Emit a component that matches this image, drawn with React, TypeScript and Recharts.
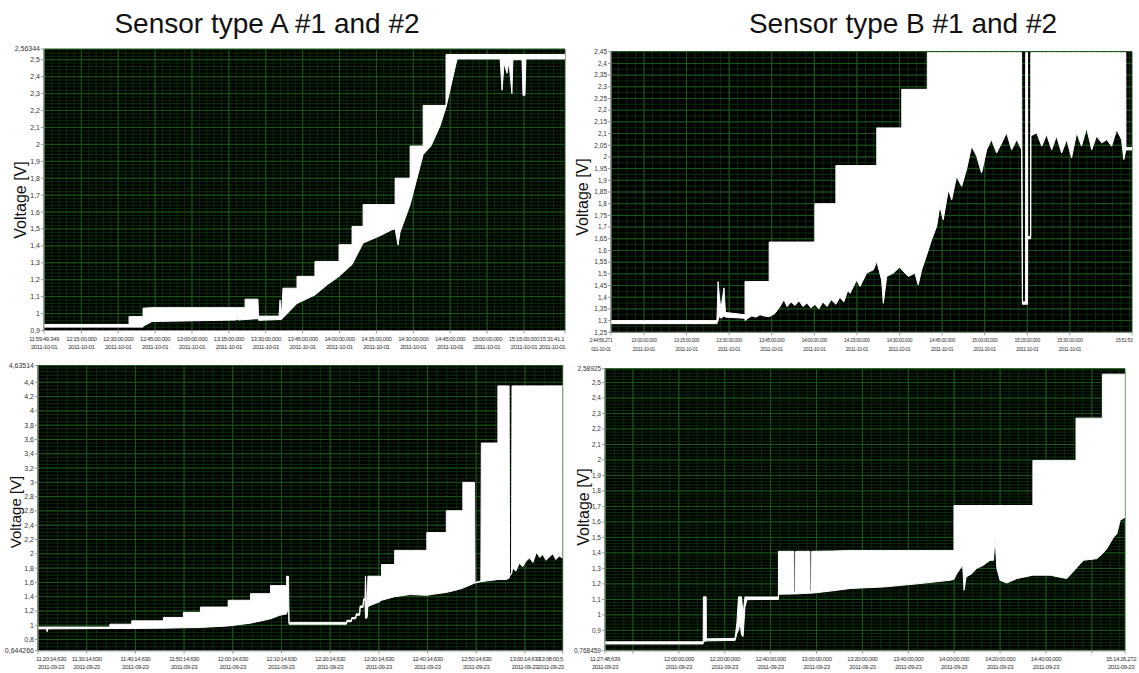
import React from 'react';
import { ComposedChart, Area, XAxis, YAxis, CartesianGrid } from 'recharts';

const FONT = '"Liberation Sans", Arial, sans-serif';

// Sensor type A, run 1 (2011-10-01). Time in minutes since midnight.
const aTopTime = [
  719.8, 754.4, 754.4, 760.1, 760.1, 763.7, 783.3, 798.0, 798.3, 798.6,
  801.6, 801.6, 806.8, 807.1, 815.4, 815.8, 816.4, 817.0, 822.7, 822.7,
  830.0, 830.0, 835.0, 839.8, 839.8, 845.1, 845.1, 849.6, 849.6, 856.5,
  861.3, 862.6, 862.6, 863.8, 864.6, 868.7, 868.7, 874.0, 874.0, 877.2,
  880.9, 883.3, 883.3, 887.8, 905.3, 906.1, 906.9, 908.1, 908.9, 910.1,
  910.5, 914.2, 914.6, 915.4, 915.8, 931.7,
];
const aTopSensor1 = [
  0.935, 0.935, 0.983, 0.983, 1.032, 1.035, 1.035, 1.035, 1.035, 1.035,
  1.035, 1.085, 1.085, 0.985, 0.985, 1.08, 0.99, 1.15, 1.15, 1.22,
  1.22, 1.308, 1.308, 1.308, 1.407, 1.407, 1.515, 1.515, 1.644, 1.644,
  1.644, 1.644, 1.8, 1.8, 1.8, 1.8, 1.99, 1.99, 2.23, 2.23,
  2.23, 2.23, 2.531, 2.531, 2.531, 2.531, 2.531, 2.531, 2.531, 2.531,
  2.531, 2.531, 2.531, 2.531, 2.531, 2.531,
];
const aTopSensor2 = [
  0.92, 0.92, 0.92, 0.92, 0.925, 0.953, 0.958, 0.962, 1.0, 0.962,
  0.965, 0.965, 0.97, 0.96, 0.965, 0.965, 0.965, 0.975, 1.06, 1.06,
  1.11, 1.11, 1.17, 1.22, 1.22, 1.29, 1.29, 1.417, 1.417, 1.46,
  1.495, 1.5, 1.5, 1.405, 1.48, 1.644, 1.644, 1.94, 1.94, 1.99,
  2.11, 2.22, 2.22, 2.505, 2.505, 2.32, 2.48, 2.42, 2.49, 2.3,
  2.5, 2.5, 2.29, 2.29, 2.505, 2.505,
];
const aTopTicks = [719.822, 735, 750, 765, 780, 795, 810, 825, 840, 855, 870, 885, 900, 915, 931.685];
const aTopTimeLabels = [
  '11:59:49,349', '12:15:00,000', '12:30:00,000', '12:45:00,000', '13:00:00,000', '13:15:00,000',
  '13:30:00,000', '13:45:00,000', '14:00:00,000', '14:15:00,000', '14:30:00,000', '14:45:00,000',
  '15:00:00,000', '15:15:00,000', '15:31:41,1',
];
const aTopDates = Array(15).fill('2011-10-01');
const aTopVolts = [0.9, 1, 1.1, 1.2, 1.3, 1.4, 1.5, 1.6, 1.7, 1.8, 1.9, 2, 2.1, 2.2, 2.3, 2.4, 2.5, 2.56344];

// Sensor type B, run 1 (2011-10-01)
const bTopTime = [
  768.4, 805.7, 806.1, 806.6, 807.1, 808.2, 808.7, 815.6, 815.6, 816.6,
  818.0, 819.5, 820.9, 822.3, 824.1, 824.1, 826.1, 827.9, 829.3, 830.4,
  831.8, 833.2, 834.6, 836.0, 837.4, 838.8, 840.2, 840.2, 841.6, 843.0,
  844.5, 845.9, 847.6, 847.6, 849.0, 850.4, 851.8, 852.6, 854.9, 856.1,
  858.4, 860.8, 862.0, 862.0, 863.7, 864.3, 865.5, 867.8, 870.2, 870.8,
  870.8, 873.1, 875.4, 876.6, 877.8, 879.8, 879.8, 881.3, 883.1, 884.2,
  885.4, 887.2, 888.4, 890.1, 891.9, 893.6, 895.4, 897.2, 898.9, 900.7,
  902.4, 904.2, 906.0, 907.7, 909.5, 911.3, 913.0, 913.3, 914.4, 914.45,
  915.1, 915.15, 916.2, 916.25, 918.3, 920.1, 921.8, 923.6, 925.3, 927.1,
  928.9, 930.6, 932.4, 934.1, 935.9, 937.7, 939.4, 941.2, 943.0, 944.7,
  946.5, 948.2, 949.0, 949.7, 949.75, 951.9,
];
const bTopSensor1 = [
  1.3, 1.3, 1.467, 1.4, 1.35, 1.44, 1.335, 1.325, 1.467, 1.467,
  1.467, 1.467, 1.467, 1.467, 1.467, 1.636, 1.636, 1.636, 1.636, 1.636,
  1.636, 1.636, 1.636, 1.636, 1.636, 1.636, 1.636, 1.8, 1.8, 1.8,
  1.8, 1.8, 1.8, 1.963, 1.963, 1.963, 1.963, 1.963, 1.963, 1.963,
  1.963, 1.963, 1.963, 2.124, 2.124, 2.124, 2.124, 2.124, 2.124, 2.124,
  2.289, 2.289, 2.289, 2.289, 2.289, 2.289, 2.446, 2.446, 2.446, 2.446,
  2.446, 2.446, 2.446, 2.446, 2.446, 2.446, 2.446, 2.446, 2.446, 2.446,
  2.446, 2.446, 2.446, 2.446, 2.446, 2.446, 2.446, 1.38, 1.38, 2.446,
  2.446, 1.66, 1.66, 2.446, 2.446, 2.446, 2.446, 2.446, 2.446, 2.446,
  2.446, 2.446, 2.446, 2.446, 2.446, 2.446, 2.446, 2.446, 2.446, 2.446,
  2.446, 2.446, 2.446, 2.446, 2.04, 2.04,
];
const bTopSensor2 = [
  1.287, 1.287, 1.3, 1.32, 1.31, 1.32, 1.315, 1.31, 1.3, 1.31,
  1.32, 1.315, 1.325, 1.32, 1.317, 1.317, 1.33, 1.36, 1.39, 1.36,
  1.38, 1.365, 1.385, 1.36, 1.375, 1.355, 1.37, 1.37, 1.35, 1.38,
  1.36, 1.39, 1.37, 1.37, 1.4, 1.38, 1.43, 1.417, 1.474, 1.446,
  1.503, 1.517, 1.553, 1.553, 1.474, 1.374, 1.489, 1.503, 1.53, 1.517,
  1.517, 1.489, 1.503, 1.453, 1.517, 1.589, 1.589, 1.646, 1.703, 1.789,
  1.731, 1.86, 1.817, 1.917, 1.874, 1.946, 2.046, 2.003, 1.931, 2.031,
  2.074, 2.017, 2.06, 2.103, 2.031, 2.074, 2.031, 1.37, 1.37, 1.37,
  1.37, 1.65, 1.65, 2.09, 2.103, 2.046, 2.096, 2.031, 2.089, 2.017,
  2.074, 1.996, 2.103, 2.046, 2.124, 2.031, 2.089, 2.06, 2.074, 2.046,
  2.117, 2.074, 1.989, 2.03, 2.03, 2.03,
];
const bTopTicks = [768.4, 780, 795, 810, 825, 840, 855, 870, 885, 900, 915, 930, 951.88];
const bTopTimeLabels = [
  '2:44:56,271', '13:00:00,000', '13:15:00,000', '13:30:00,000', '13:45:00,000', '14:00:00,000',
  '14:15:00,000', '14:30:00,000', '14:45:00,000', '15:00:00,000', '15:15:00,000', '15:30:00,000', '15:51:53',
];
const bTopDates = ['011-10-01', ...Array(11).fill('2011-10-01'), ''];
const bTopVolts = [
  1.25, 1.3, 1.35, 1.4, 1.45, 1.5, 1.55, 1.6, 1.65, 1.7, 1.75, 1.8, 1.85,
  1.9, 1.95, 2, 2.05, 2.1, 2.15, 2.2, 2.25, 2.3, 2.35, 2.4, 2.45,
];

// Sensor type A, run 2 (2011-09-23)
const aBotTime = [
  680.2, 682.0, 682.1, 682.3, 695.0, 695.0, 699.5, 699.5, 706.0, 706.0,
  710.1, 710.1, 713.6, 713.6, 719.3, 719.3, 723.9, 723.9, 728.0, 728.0,
  729.9, 731.3, 731.3, 731.7, 731.8, 743.6, 743.7, 744.6, 744.7, 745.5,
  745.6, 746.3, 746.4, 747.0, 747.1, 747.4, 747.5, 747.8, 748.0, 750.4,
  750.8, 750.8, 753.5, 753.5, 756.6, 760.1, 760.1, 762.0, 764.1, 764.1,
  766.0, 767.5, 767.5, 769.9, 770.0, 771.2, 771.3, 772.3, 774.7, 774.7,
  776.4, 777.0, 777.1, 777.5, 777.6, 777.7, 778.4, 779.1, 779.8, 780.5,
  781.2, 781.9, 782.6, 783.3, 783.9, 784.6, 785.3, 786.0, 786.6, 787.3,
  788.0,
];
const aBotSensor1 = [
  0.975, 0.975, 0.975, 0.975, 0.975, 1.015, 1.015, 1.062, 1.062, 1.11,
  1.11, 1.18, 1.18, 1.255, 1.255, 1.35, 1.35, 1.442, 1.442, 1.555,
  1.555, 1.555, 1.685, 1.685, 1.04, 1.04, 1.07, 1.07, 1.11, 1.11,
  1.16, 1.16, 1.27, 1.27, 1.37, 1.37, 1.686, 1.12, 1.686, 1.686,
  1.686, 1.85, 1.85, 2.048, 2.048, 2.048, 2.297, 2.297, 2.297, 2.602,
  2.602, 2.602, 3.0, 3.0, 1.6, 1.62, 3.55, 3.55, 3.55, 4.35,
  4.35, 4.35, 1.7, 1.73, 4.35, 4.35, 4.35, 4.35, 4.35, 4.35,
  4.35, 4.35, 4.35, 4.35, 4.35, 4.35, 4.35, 4.35, 4.35, 4.35,
  4.35,
];
const aBotSensor2 = [
  0.95, 0.95, 0.91, 0.95, 0.955, 0.955, 0.955, 0.955, 0.96, 0.96,
  0.965, 0.965, 0.97, 0.97, 0.99, 0.99, 1.03, 1.03, 1.09, 1.09,
  1.14, 1.16, 1.16, 1.26, 1.015, 1.015, 1.05, 1.05, 1.09, 1.09,
  1.14, 1.14, 1.25, 1.25, 1.35, 1.35, 1.1, 1.1, 1.264, 1.33,
  1.35, 1.35, 1.4, 1.4, 1.43, 1.42, 1.42, 1.44, 1.46, 1.46,
  1.49, 1.52, 1.52, 1.59, 1.59, 1.61, 1.61, 1.62, 1.64, 1.64,
  1.64, 1.66, 1.69, 1.72, 1.75, 1.8, 1.76, 1.87, 1.82, 1.9,
  1.94, 1.88, 2.02, 1.95, 1.99, 1.91, 1.96, 2.0, 1.92, 1.97,
  1.94,
];
const aBotTicks = [680.244, 690.244, 700.244, 710.244, 720.244, 730.244, 740.244, 750.244, 760.244, 770.244, 780.244, 788.008];
const aBotTimeLabels = [
  '11:20:14,630', '11:30:14,630', '11:40:14,630', '11:50:14,630', '12:00:14,630', '12:10:14,630',
  '12:20:14,630', '12:30:14,630', '12:40:14,630', '12:50:14,630', '13:00:14,630', '13:08:00,5',
];
const aBotDates = Array(12).fill('2011-09-23');
const aBotVolts = [
  0.644266, 0.8, 1, 1.2, 1.4, 1.6, 1.8, 2, 2.2, 2.4, 2.6, 2.8, 3, 3.2, 3.4,
  3.6, 3.8, 4, 4.2, 4.4, 4.63514,
];

// Sensor type B, run 2 (2011-09-23)
const bBotTime = [
  687.8, 730.6, 730.7, 731.9, 732.0, 744.5, 745.3, 746.0, 746.7, 747.3,
  748.0, 748.8, 749.7, 763.4, 763.4, 770.1, 770.2, 770.8, 770.9, 777.1,
  777.2, 777.8, 777.9, 787.0, 794.6, 809.1, 823.7, 838.2, 839.9, 839.9,
  841.1, 842.6, 843.7, 844.3, 845.2, 847.7, 849.8, 852.7, 855.6, 857.1,
  857.8, 858.6, 860.0, 862.9, 867.3, 874.3, 874.3, 881.8, 889.1, 893.1,
  893.1, 896.3, 902.2, 904.6, 904.6, 906.5, 909.4, 910.9, 912.3, 914.4,
];
const bBotSensor1 = [
  0.826, 0.826, 1.116, 1.116, 0.845, 0.848, 0.95, 1.116, 1.116, 1.116,
  1.0, 1.116, 1.115, 1.115, 1.41, 1.41, 1.145, 1.145, 1.41, 1.41,
  1.15, 1.15, 1.41, 1.412, 1.415, 1.415, 1.415, 1.415, 1.415, 1.706,
  1.706, 1.706, 1.706, 1.706, 1.706, 1.706, 1.706, 1.706, 1.706, 1.706,
  1.706, 1.706, 1.706, 1.706, 1.706, 1.706, 1.996, 1.996, 1.996, 1.996,
  2.27, 2.27, 2.27, 2.27, 2.554, 2.554, 2.554, 2.554, 2.554, 2.554,
];
const bBotSensor2 = [
  0.812, 0.812, 0.83, 0.83, 0.832, 0.835, 0.88, 0.9, 0.95, 0.87,
  0.86, 1.05, 1.098, 1.1, 1.133, 1.135, 1.135, 1.135, 1.135, 1.14,
  1.14, 1.14, 1.14, 1.155, 1.17, 1.18, 1.2, 1.223, 1.23, 1.23,
  1.266, 1.298, 1.32, 1.159, 1.245, 1.266, 1.3, 1.32, 1.352, 1.352,
  1.5, 1.3, 1.223, 1.206, 1.234, 1.256, 1.256, 1.256, 1.234, 1.3,
  1.3, 1.352, 1.363, 1.395, 1.395, 1.427, 1.5, 1.524, 1.61, 1.63,
];
const bBotTicks = [687.81, 700, 720, 740, 760, 780, 800, 820, 840, 860, 880, 900, 914.44];
const bBotTimeLabels = [
  '11:27:48,639', '', '12:00:00,000', '12:20:00,000', '12:40:00,000', '13:00:00,000', '13:20:00,000',
  '13:40:00,000', '14:00:00,000', '14:20:00,000', '14:40:00,000', '', '15:14:26,272',
];
const bBotDates = [
  '2011-09-23', '', '2011-09-23', '2011-09-23', '2011-09-23', '2011-09-23', '2011-09-23',
  '2011-09-23', '2011-09-23', '2011-09-23', '2011-09-23', '', '2011-09-23',
];
const bBotVolts = [
  0.768459, 0.9, 1, 1.1, 1.2, 1.3, 1.4, 1.5, 1.6, 1.7, 1.8, 1.9, 2, 2.1,
  2.2, 2.3, 2.4, 2.5, 2.58925,
];

// grid helper: evenly spaced line positions (styling only)
const gridLines = (anchor: number, lo: number, hi: number, step: number) => {
  const out: number[] = [];
  let v = anchor;
  while (v - step >= lo) v -= step;
  for (; v <= hi; v += step) out.push(+v.toFixed(4));
  return out;
};

type PanelProps = {
  box: number[];
  plot: number[];
  time: number[];
  s1: number[];
  s2: number[];
  xTicks: number[];
  timeLabels: string[];
  dates: string[];
  yTicks: number[];
  xMinor: [number, number];
  yMinor: [number, number];
  xFont: number;
  xSpacing: number;
  yFont: number;
  firstDx?: number;
  lastDx?: number;
};

const Panel: React.FC<PanelProps> = (p) => {
  const [left, top, width, height] = p.box;
  const [pl, pt, pr, pb] = p.plot;
  const rows = p.time.map((t, i) => ({ t, band: [p.s2[i], p.s1[i]] }));
  const x0 = p.xTicks[0];
  const x1 = p.xTicks[p.xTicks.length - 1];
  const y0 = p.yTicks[0];
  const y1 = p.yTicks[p.yTicks.length - 1];
  const minorX = gridLines(p.xMinor[0], x0, x1, p.xMinor[1]);
  const minorY = gridLines(p.yMinor[0], y0, y1, p.yMinor[1]);

  const renderTick = (props: any) => {
    const { x, y, payload } = props;
    const i = p.xTicks.indexOf(payload.value);
    let dx = 0;
    if (i === 0) dx = p.firstDx || 0;
    if (i === p.xTicks.length - 1) dx = p.lastDx || 0;
    return (
      <text x={x + dx} y={y} textAnchor="middle" fontSize={p.xFont} letterSpacing={p.xSpacing}
        fontFamily={FONT} fill="#333">
        <tspan x={x + dx} dy={7}>{p.timeLabels[i]}</tspan>
        <tspan x={x + dx} dy={8.5}>{p.dates[i]}</tspan>
      </text>
    );
  };

  return (
    <div style={{ position: 'absolute', left, top, width, height, overflow: 'hidden' }}>
      <ComposedChart
        width={width}
        height={height}
        data={rows}
        margin={{ top: pt - top, right: left + width - pr, left: 0, bottom: top + height - pb - 20 }}
      >
        <CartesianGrid horizontalValues={minorY} verticalValues={minorX} stroke="#0b2c0b" fill="#000" />
        <CartesianGrid horizontalValues={p.yTicks} verticalValues={p.xTicks} stroke="#1b5a1b" />
        <XAxis
          dataKey="t"
          type="number"
          domain={[x0, x1]}
          ticks={p.xTicks}
          interval={0}
          allowDataOverflow
          height={20}
          tickSize={3}
          tickMargin={0}
          stroke="#999"
          tick={renderTick}
        />
        <YAxis
          type="number"
          domain={[y0, y1]}
          ticks={p.yTicks}
          interval={0}
          allowDataOverflow
          width={pl - left}
          tickSize={3}
          tickMargin={1}
          stroke="#999"
          tickFormatter={(v: number) => String(v).replace('.', ',')}
          tick={{ fontSize: p.yFont, fill: '#333', fontFamily: FONT }}
        />
        <Area
          type="linear"
          dataKey="band"
          stroke="#fff"
          strokeWidth={1}
          fill="#fff"
          fillOpacity={1}
          dot={false}
          activeDot={false}
          isAnimationActive={false}
        />
      </ComposedChart>
    </div>
  );
};

const App: React.FC = () => (
  <div style={{ position: 'absolute', left: 0, top: 0, width: 1139, height: 673, background: '#fff' }}>
    <Panel
      box={[0, 40, 570, 315]}
      plot={[44, 49, 565, 330.5]}
      time={aTopTime}
      s1={aTopSensor1}
      s2={aTopSensor2}
      xTicks={aTopTicks}
      timeLabels={aTopTimeLabels}
      dates={aTopDates}
      yTicks={aTopVolts}
      xMinor={[735, 3]}
      yMinor={[1, 0.02]}
      xFont={6}
      xSpacing={-0.4}
      yFont={7}
      lastDx={-13}
    />
    <Panel
      box={[570, 40, 569, 315]}
      plot={[611, 51.7, 1132, 332.3]}
      time={bTopTime}
      s1={bTopSensor1}
      s2={bTopSensor2}
      xTicks={bTopTicks}
      timeLabels={bTopTimeLabels}
      dates={bTopDates}
      yTicks={bTopVolts}
      xMinor={[780, 3]}
      yMinor={[1.25, 0.025]}
      xFont={5}
      xSpacing={-0.3}
      yFont={6.5}
      firstDx={-10}
      lastDx={-8}
    />
    <Panel
      box={[0, 355, 570, 318]}
      plot={[38, 365.5, 562.7, 650.7]}
      time={aBotTime}
      s1={aBotSensor1}
      s2={aBotSensor2}
      xTicks={aBotTicks}
      timeLabels={aBotTimeLabels}
      dates={aBotDates}
      yTicks={aBotVolts}
      xMinor={[690.244, 2]}
      yMinor={[1, 0.05]}
      xFont={6}
      xSpacing={-0.4}
      yFont={7}
      firstDx={13}
      lastDx={-12}
    />
    <Panel
      box={[570, 355, 569, 318]}
      plot={[605, 368.7, 1125, 650.7]}
      time={bBotTime}
      s1={bBotSensor1}
      s2={bBotSensor2}
      xTicks={bBotTicks}
      timeLabels={bBotTimeLabels}
      dates={bBotDates}
      yTicks={bBotVolts}
      xMinor={[700, 4]}
      yMinor={[1, 0.02]}
      xFont={6}
      xSpacing={-0.4}
      yFont={6.5}
      lastDx={-4}
    />
    <svg width={1139} height={673} style={{ position: 'absolute', left: 0, top: 0, pointerEvents: 'none' }}>
      <g fontFamily={FONT} fill="#111">
        <text x={267} y={33} fontSize={28} textAnchor="middle">Sensor type A #1 and #2</text>
        <text x={903} y={33} fontSize={28} textAnchor="middle">Sensor type B #1 and #2</text>
        <text transform="translate(20,200) rotate(-90)" fontSize={16} textAnchor="middle" dominantBaseline="central">Voltage [V]</text>
        <text transform="translate(582,197) rotate(-90)" fontSize={16} textAnchor="middle" dominantBaseline="central">Voltage [V]</text>
        <text transform="translate(15,512) rotate(-90)" fontSize={15} textAnchor="middle" dominantBaseline="central">Voltage [V]</text>
        <text transform="translate(583,507) rotate(-90)" fontSize={16} textAnchor="middle" dominantBaseline="central">Voltage [V]</text>
      </g>
    </svg>
  </div>
);

export default App;
